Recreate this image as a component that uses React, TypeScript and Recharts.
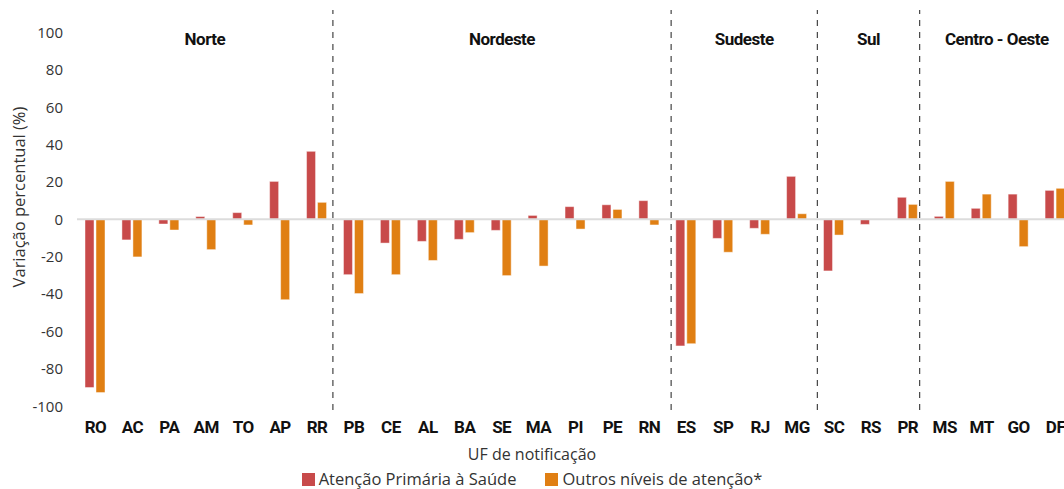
import {
  Bar,
  BarChart,
  Legend,
  ReferenceArea,
  ReferenceLine,
  XAxis,
  YAxis,
} from "recharts";

const UFS = [
  "RO", "AC", "PA", "AM", "TO", "AP", "RR",
  "PB", "CE", "AL", "BA", "SE", "MA", "PI", "PE", "RN",
  "ES", "SP", "RJ", "MG",
  "SC", "RS", "PR",
  "MS", "MT", "GO", "DF",
];

const APS = [
  -90, -11, -2.5, 1.5, 3.6, 20.3, 36.4,
  -29.6, -12.7, -11.8, -10.7, -5.9, 2.1, 6.8, 7.8, 10,
  -67.7, -10.2, -4.8, 23,
  -27.6, -2.7, 11.8,
  1.6, 5.9, 13.5, 15.5,
];

const OUTROS = [
  -92.7, -20.1, -5.7, -16.2, -3, -43, 9.1,
  -39.7, -29.6, -22, -7.1, -30.1, -25, -5.2, 5.3, -3,
  -66.5, -17.6, -8, 3,
  -8.4, 0, 8,
  20.3, 13.5, -14.6, 16.6,
];

const REGIONS = ["Norte", "Nordeste", "Sudeste", "Sul", "Centro - Oeste"];
// region limits, in category units (dividers sit roughly between states)
const REGION_BOUNDS = [0, 6.93, 16.09, 20.05, 22.82, 27];

const Y_TICKS = [-100, -80, -60, -40, -20, 0, 20, 40, 60, 80, 100];

const RED = "#c84a4a";
const ORANGE = "#e07f13";
const TEXT = "#333333";
const FONT = "'Open Sans', 'Noto Sans', sans-serif";
const BOLD_FONT = "Roboto, 'Open Sans', sans-serif";

// slot = middle of each state's band, used by the hidden numeric axis
const rows = UFS.map((uf, i) => ({ uf, slot: i + 0.5, aps: APS[i], outros: OUTROS[i] }));

function YTitle({ viewBox }: any) {
  const cx = viewBox.x + 18;
  const cy = viewBox.y + viewBox.height / 2 - 13;
  return (
    <text
      x={cx}
      y={cy}
      transform={`rotate(-90 ${cx} ${cy})`}
      textAnchor="middle"
      dominantBaseline="central"
      fontFamily={FONT}
      fontSize={16.5}
      fill={TEXT}
    >
      Variação percentual (%)
    </text>
  );
}

function LegendBox({ payload }: any) {
  return (
    <div style={{ fontFamily: FONT, color: TEXT, textAlign: "center" }}>
      <div style={{ fontSize: 16, lineHeight: "22px" }}>UF de notificação</div>
      <div style={{ fontSize: 16.5, lineHeight: "22px", marginTop: 3 }}>
        {(payload || []).map((p: any, i: number) => (
          <span
            key={p.value}
            style={{ display: "inline-flex", alignItems: "center", marginLeft: i ? 29 : 0 }}
          >
            <span
              style={{
                display: "inline-block",
                width: 13,
                height: 13,
                background: p.color,
                marginRight: 4,
              }}
            />
            {p.value}
          </span>
        ))}
      </div>
    </div>
  );
}

export default function App() {
  return (
    <div
      style={{
        position: "absolute",
        left: 0,
        top: 0,
        width: 1064,
        height: 489,
        overflow: "hidden",
        background: "#fff",
      }}
    >
      <BarChart
        width={1074}
        height={489}
        data={rows}
        margin={{ top: 10, right: 0, left: 0, bottom: 49 }}
        barSize={9}
        barGap={2}
      >
        <XAxis
          dataKey="uf"
          interval={0}
          height={30}
          axisLine={false}
          tickLine={false}
          tickSize={0}
          tickMargin={11}
          tick={{ fill: "#111", fontSize: 17, fontWeight: 700, fontFamily: BOLD_FONT, letterSpacing: -0.5 }}
        />
        <XAxis
          xAxisId="num"
          dataKey="slot"
          type="number"
          scale="linear"
          domain={[0, 27]}
          allowDataOverflow
          hide
        />
        <YAxis
          domain={[-102, 112]}
          ticks={Y_TICKS}
          interval={0}
          axisLine={false}
          tickLine={false}
          tickSize={0}
          tickMargin={14}
          width={77}
          tick={{ fill: TEXT, fontSize: 15, fontFamily: FONT }}
          label={<YTitle />}
        />
        <ReferenceLine y={0} stroke="#dcdcdc" strokeWidth={2} />
        {REGION_BOUNDS.slice(1, -1).map((b) => (
          <ReferenceLine
            key={b}
            x={b}
            xAxisId="num"
            stroke="#444"
            strokeWidth={1.2}
            strokeDasharray="6 6"
          />
        ))}
        {REGIONS.map((r, i) => (
          <ReferenceArea
            key={r}
            xAxisId="num"
            x1={REGION_BOUNDS[i]}
            x2={REGION_BOUNDS[i + 1]}
            fill="none"
            fillOpacity={0}
            stroke="none"
            label={{
              value: r,
              position: "insideTop",
              offset: 23,
              fill: "#111",
              fontSize: 17,
              fontWeight: 700,
              fontFamily: BOLD_FONT,
              letterSpacing: -0.5,
            }}
          />
        ))}
        <Bar
          dataKey="aps"
          name="Atenção Primária à Saúde"
          fill={RED}
          stroke="rgba(255,255,255,0.45)"
          strokeWidth={1}
          isAnimationActive={false}
        />
        <Bar
          dataKey="outros"
          name="Outros níveis de atenção*"
          fill={ORANGE}
          stroke="rgba(255,255,255,0.45)"
          strokeWidth={1}
          isAnimationActive={false}
        />
        <Legend
          verticalAlign="middle"
          align="center"
          wrapperStyle={{ top: 443, left: 0, width: 1064, bottom: "auto" }}
          content={<LegendBox />}
        />
      </BarChart>
    </div>
  );
}
